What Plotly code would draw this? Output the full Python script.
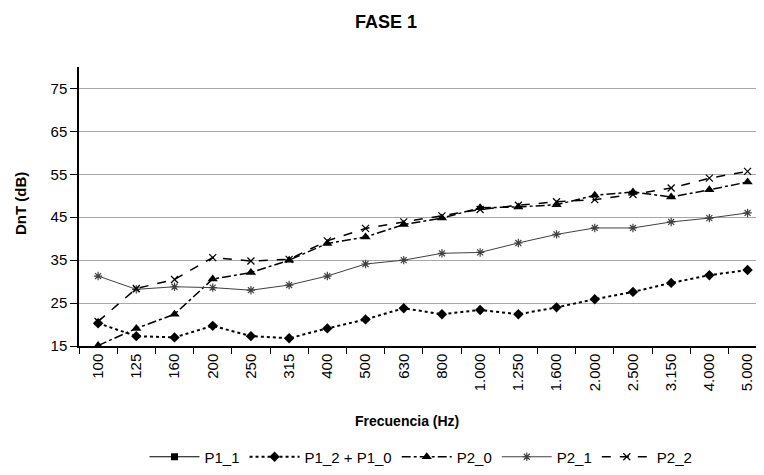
import plotly.graph_objects as go

freqs = ["100", "125", "160", "200", "250", "315", "400", "500", "630", "800",
         "1.000", "1.250", "1.600", "2.000", "2.500", "3.150", "4.000", "5.000"]

p1_1 = [None] * 18
p1_2_p1_0 = [20.3, 17.3, 17.0, 19.7, 17.3, 16.8, 19.1, 21.2, 23.8, 22.4,
             23.4, 22.4, 24.0, 25.9, 27.6, 29.7, 31.5, 32.7]
p2_0 = [15.1, 19.1, 22.4, 30.6, 32.1, 35.0, 38.9, 40.4, 43.3, 44.8,
        47.2, 47.4, 47.9, 50.1, 50.9, 49.7, 51.4, 53.2]
p2_1 = [31.3, 28.2, 28.8, 28.6, 28.0, 29.2, 31.3, 34.1, 35.0, 36.6,
        36.8, 39.0, 41.0, 42.5, 42.5, 43.9, 44.8, 46.0]
p2_2 = [20.7, 28.4, 30.5, 35.6, 34.8, 35.2, 39.5, 42.4, 43.9, 45.3,
        46.8, 47.8, 48.6, 49.1, 50.3, 51.8, 54.1, 55.7]

y_ticks = [15, 25, 35, 45, 55, 65, 75]

FONT = "Arial, Liberation Sans, sans-serif"

fig = go.Figure()
fig.add_trace(go.Scatter(x=freqs, y=p1_1, name="P1_1", mode="lines+markers",
                         line=dict(color="black", width=1),
                         marker=dict(symbol="square", size=7, color="black")))
fig.add_trace(go.Scatter(x=freqs, y=p1_2_p1_0, name="P1_2 + P1_0", mode="lines+markers",
                         line=dict(color="black", width=2, dash="dot"),
                         marker=dict(symbol="diamond", size=8, color="black")))
fig.add_trace(go.Scatter(x=freqs, y=p2_0, name="P2_0", mode="lines+markers",
                         line=dict(color="black", width=1.5, dash="dashdot"),
                         marker=dict(symbol="triangle-up", size=9, color="black")))
fig.add_trace(go.Scatter(x=freqs, y=p2_1, name="P2_1", mode="lines+markers",
                         line=dict(color="#404040", width=1),
                         marker=dict(symbol="asterisk-open", size=7,
                                     line=dict(color="black", width=1.2))))
fig.add_trace(go.Scatter(x=freqs, y=p2_2, name="P2_2", mode="lines+markers",
                         line=dict(color="black", width=1.5, dash="dash"),
                         marker=dict(symbol="x-thin-open", size=7,
                                     line=dict(color="black", width=1.2))))

W, H = 756, 467  # page has an 8px body margin
fig.update_layout(
    width=W, height=H,
    margin=dict(l=71, r=0, t=59, b=129),
    paper_bgcolor="white", plot_bgcolor="white",
    font=dict(family=FONT, size=15, color="black"),
    showlegend=True,
    legend=dict(orientation="h", x=(421 - 79) / 685, xanchor="center",
                y=(346 - 457) / 279, yanchor="middle",
                font=dict(size=15), itemwidth=50, tracegroupgap=0),
    title=dict(text="<b>FASE 1</b>", x=378 / W, xanchor="center", y=1 - 14 / H,
               yanchor="middle", yref="container", font=dict(size=18)),
)

fig.update_xaxes(
    type="category", categoryorder="array", categoryarray=freqs,
    range=[-0.5, 17.43], tickangle=-90, tickson="boundaries",
    ticks="outside", ticklen=6, tickcolor="black",
    showline=True, linecolor="black", linewidth=1.5, showgrid=False,
    tickfont=dict(size=15),
)
fig.update_yaxes(
    range=[15, 80], tickvals=y_ticks, ticks="outside", ticklen=7, tickcolor="black",
    showline=True, linecolor="black", linewidth=1.5,
    showgrid=True, gridcolor="#a8a8a8", gridwidth=1, zeroline=False,
    tickfont=dict(size=15),
)

fig.add_annotation(text="<b>Frecuencia (Hz)</b>", xref="paper", yref="paper",
                   x=(407 - 79) / 685, y=(346 - 421) / 279, showarrow=False,
                   xanchor="center", yanchor="middle", font=dict(size=14))
fig.add_annotation(text="<b>DnT (dB)</b>", xref="paper", yref="paper",
                   x=(20 - 79) / 685, y=(346 - 204) / 279, showarrow=False,
                   textangle=-90, xanchor="center", yanchor="middle", font=dict(size=15))

fig.write_html("out.html")
